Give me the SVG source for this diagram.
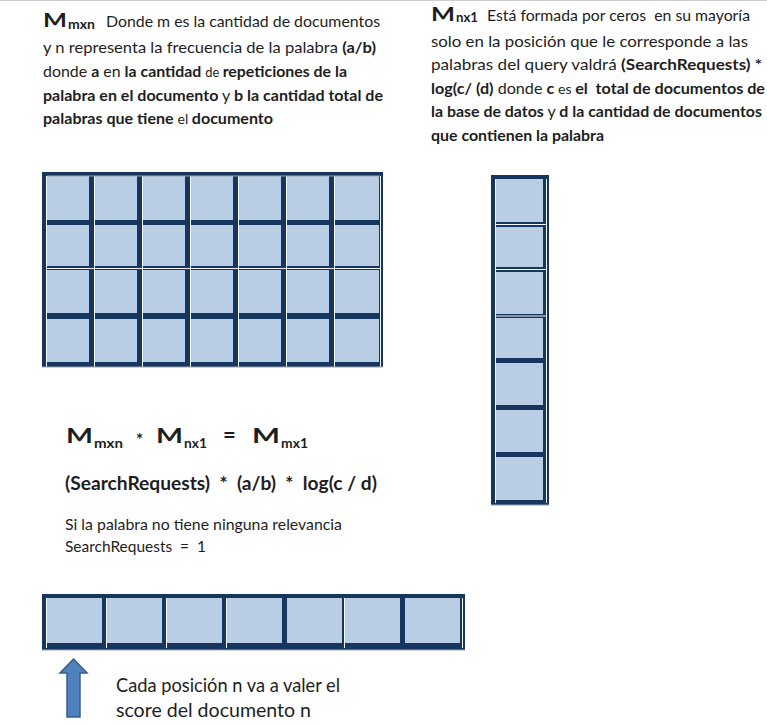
<svg xmlns="http://www.w3.org/2000/svg" width="767" height="726" viewBox="0 0 767 726">
<style>
.t{font-family:Lato,"Open Sans","Liberation Sans",sans-serif;fill:#1e1e1e;white-space:pre}
.b{font-weight:bold}
.n{font-weight:normal}
.frame{fill:#17365d}
.cell{fill:#b9cde5}
.hl{stroke:#f4f7fb;stroke-width:1}
.gl{stroke:#9aa6b4;stroke-width:1.2}
</style>
<rect width="767" height="726" fill="#ffffff"/>
<line x1="0" y1="0.5" x2="767" y2="0.5" stroke="#cfcfcf"/>

<g id="text-mxn">
<text class="t b" x="43" y="27" font-size="19" textLength="24" lengthAdjust="spacingAndGlyphs">M</text>
<text class="t b" x="68" y="29" font-size="13" textLength="27" lengthAdjust="spacingAndGlyphs">mxn</text>
<text class="t" x="106" y="27" font-size="16" textLength="274" lengthAdjust="spacingAndGlyphs">Donde m es la cantidad de documentos</text>
<text class="t" x="43" y="53" font-size="16" textLength="333" lengthAdjust="spacingAndGlyphs">y n representa la frecuencia de la palabra <tspan class="b">(a/b)</tspan></text>
<text class="t" x="43" y="77" font-size="16" textLength="304" lengthAdjust="spacingAndGlyphs">donde <tspan class="b">a</tspan> en <tspan class="b">la cantidad </tspan><tspan font-size="13">de </tspan><tspan class="b">repeticiones de la</tspan></text>
<text class="t" x="43" y="101" font-size="16" textLength="340" lengthAdjust="spacingAndGlyphs"><tspan class="b">palabra en el documento</tspan> y <tspan class="b">b la cantidad total de</tspan></text>
<text class="t" x="43" y="124" font-size="16" textLength="230" lengthAdjust="spacingAndGlyphs"><tspan class="b">palabras que tiene </tspan><tspan font-size="14">el </tspan><tspan class="b">documento</tspan></text>
</g>

<g id="text-nx1">
<text class="t b" x="431" y="21" font-size="18" textLength="24" lengthAdjust="spacingAndGlyphs">M</text>
<text class="t b" x="456" y="22" font-size="13" textLength="22" lengthAdjust="spacingAndGlyphs">nx1</text>
<text class="t" x="487" y="21" font-size="16" textLength="263" lengthAdjust="spacingAndGlyphs">Está formada por ceros  en su mayoría</text>
<text class="t" x="431" y="47" font-size="16" textLength="317" lengthAdjust="spacingAndGlyphs">solo en la posición que le corresponde a las</text>
<text class="t" x="431" y="70" font-size="16" textLength="331" lengthAdjust="spacingAndGlyphs">palabras del query valdrá <tspan class="b">(SearchRequests) *</tspan></text>
<text class="t" x="431" y="94" font-size="16" textLength="334" lengthAdjust="spacingAndGlyphs"><tspan class="b">log(c/ (d)</tspan> donde <tspan class="b">c</tspan><tspan font-size="14"> es </tspan><tspan class="b">el  total de documentos de</tspan></text>
<text class="t" x="431" y="117" font-size="16" textLength="331" lengthAdjust="spacingAndGlyphs"><tspan class="b">la base de datos</tspan> y <tspan class="b">d la cantidad de documentos</tspan></text>
<text class="t b" x="431" y="141" font-size="16" textLength="173" lengthAdjust="spacingAndGlyphs">que contienen la palabra</text>
</g>

<g id="matrix-mxn">
<rect class="frame" x="42" y="172" width="341" height="195"/>
<g class="cell">
<rect x="47" y="176" width="42" height="44"/><rect x="95" y="176" width="42" height="44"/><rect x="143" y="176" width="42" height="44"/><rect x="191" y="176" width="42" height="44"/><rect x="239" y="176" width="42" height="44"/><rect x="287" y="176" width="42" height="44"/><rect x="335" y="176" width="44" height="44"/>
<rect x="47" y="225" width="42" height="41"/><rect x="95" y="225" width="42" height="41"/><rect x="143" y="225" width="42" height="41"/><rect x="191" y="225" width="42" height="41"/><rect x="239" y="225" width="42" height="41"/><rect x="287" y="225" width="42" height="41"/><rect x="335" y="225" width="44" height="41"/>
<rect x="47" y="270" width="42" height="43"/><rect x="95" y="270" width="42" height="43"/><rect x="143" y="270" width="42" height="43"/><rect x="191" y="270" width="42" height="43"/><rect x="239" y="270" width="42" height="43"/><rect x="287" y="270" width="42" height="43"/><rect x="335" y="270" width="44" height="43"/>
<rect x="47" y="319" width="42" height="43"/><rect x="95" y="319" width="42" height="43"/><rect x="143" y="319" width="42" height="43"/><rect x="191" y="319" width="42" height="43"/><rect x="239" y="319" width="42" height="43"/><rect x="287" y="319" width="42" height="43"/><rect x="335" y="319" width="44" height="43"/>
</g>
<g class="hl">
<line x1="46.5" y1="176" x2="46.5" y2="367"/><line x1="94.5" y1="176" x2="94.5" y2="367"/><line x1="142.5" y1="176" x2="142.5" y2="367"/><line x1="190.5" y1="176" x2="190.5" y2="367"/><line x1="238.5" y1="176" x2="238.5" y2="367"/><line x1="286.5" y1="176" x2="286.5" y2="367"/><line x1="334.5" y1="176" x2="334.5" y2="367"/><line x1="380.5" y1="176" x2="380.5" y2="367"/>
<line x1="46" y1="268.5" x2="381" y2="268.5"/>
</g>
<line class="gl" x1="42" y1="367" x2="383" y2="367"/>
<line class="gl" x1="47" y1="176" x2="380" y2="176"/>
</g>

<g id="vector-nx1">
<rect class="frame" x="491" y="175" width="58" height="330"/>
<g class="cell">
<rect x="496" y="179" width="47" height="43"/><rect x="496" y="227" width="47" height="40"/><rect x="496" y="272" width="47" height="42"/><rect x="496" y="318" width="47" height="40"/><rect x="496" y="363" width="47" height="42"/><rect x="496" y="410" width="47" height="42"/><rect x="496" y="457" width="47" height="43"/>
</g>
<g class="hl">
<line x1="495.5" y1="179" x2="495.5" y2="503"/><line x1="546.5" y1="179" x2="546.5" y2="503"/>
<line x1="496" y1="224.5" x2="547" y2="224.5"/><line x1="496" y1="269.5" x2="547" y2="269.5"/><line x1="496" y1="316" x2="547" y2="316"/>
</g>
<line class="gl" x1="491" y1="505" x2="549" y2="505"/>
</g>

<g id="formula">
<text class="t b" x="66" y="443" font-size="21" textLength="27" lengthAdjust="spacingAndGlyphs">M</text>
<text class="t b" x="94" y="448" font-size="14" textLength="29" lengthAdjust="spacingAndGlyphs">mxn</text>
<text class="t b" x="136" y="446" font-size="17">*</text>
<text class="t b" x="156" y="443" font-size="21" textLength="27" lengthAdjust="spacingAndGlyphs">M</text>
<text class="t b" x="184" y="448" font-size="14" textLength="23" lengthAdjust="spacingAndGlyphs">nx1</text>
<text class="t b" x="223" y="443" font-size="22">=</text>
<text class="t b" x="252" y="443" font-size="21" textLength="28" lengthAdjust="spacingAndGlyphs">M</text>
<text class="t b" x="281" y="448" font-size="14" textLength="27" lengthAdjust="spacingAndGlyphs">mx1</text>
<text class="t b" x="65" y="490" font-size="18" textLength="312" lengthAdjust="spacingAndGlyphs">(SearchRequests)  *  (a/b)  *  log(c / d)</text>
<text class="t" x="65" y="530" font-size="16" textLength="277" lengthAdjust="spacingAndGlyphs">Si la palabra no tiene ninguna relevancia</text>
<text class="t" x="65" y="552" font-size="16" textLength="141" lengthAdjust="spacingAndGlyphs">SearchRequests  =  1</text>
</g>

<g id="vector-mx1">
<rect class="frame" x="42" y="594" width="423" height="56"/>
<g class="cell">
<rect x="47" y="598" width="55" height="45"/><rect x="107" y="598" width="55" height="45"/><rect x="167" y="598" width="55" height="45"/><rect x="227" y="598" width="55" height="45"/><rect x="287" y="598" width="55" height="45"/><rect x="345" y="598" width="55" height="45"/><rect x="405" y="598" width="55" height="45"/>
</g>
<g class="hl">
<line x1="46.5" y1="598" x2="46.5" y2="648"/><line x1="106.5" y1="598" x2="106.5" y2="648"/><line x1="166.5" y1="598" x2="166.5" y2="648"/><line x1="226.5" y1="598" x2="226.5" y2="648"/><line x1="344.5" y1="598" x2="344.5" y2="648"/><line x1="462.5" y1="598" x2="462.5" y2="648"/>
</g>
<line class="gl" x1="42" y1="650" x2="465" y2="650"/>
</g>

<g id="connectors">
<path d="M73.5 659 L87 673 L80 673 L80 717 L67 717 L67 673 L60 673 Z" fill="#4f81bd" stroke="#385d8a" stroke-width="1.5" stroke-linejoin="miter"/>
</g>

<g id="caption">
<text class="t" x="116" y="692" font-size="20" textLength="224" lengthAdjust="spacingAndGlyphs">Cada posición n va a valer el</text>
<text class="t" x="116" y="717" font-size="20" textLength="195" lengthAdjust="spacingAndGlyphs">score del documento n</text>
</g>
</svg>
